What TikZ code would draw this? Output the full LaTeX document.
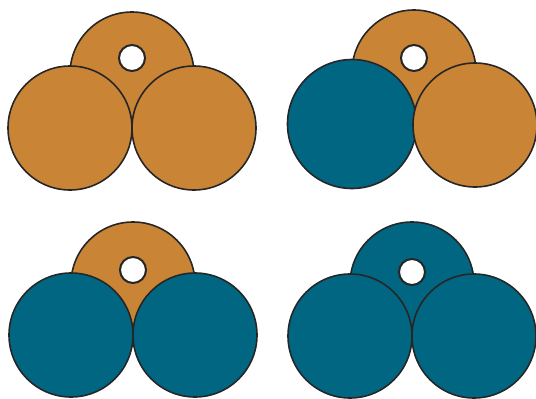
\documentclass[tikz,border=0pt]{standalone}
\definecolor{ochre}{RGB}{201,132,54}
\definecolor{teal2}{RGB}{0,102,130}
\tikzset{
  disc/.style={draw=black!85, line width=1.6pt},
  hole/.style={draw=black!85, line width=2pt, fill=white}
}
\begin{document}
\begin{tikzpicture}[x=1pt,y=-1pt]
\useasboundingbox (0,0) rectangle (536,399);
% group 1 (top left)
\draw[disc, fill=ochre] (132,74) circle (62);
\draw[hole] (132,58) circle (13);
\draw[disc, fill=ochre] (70,128) circle (62);
\draw[disc, fill=ochre] (194,128) circle (62);
% group 2 (top right)
\draw[disc, fill=ochre] (414,72) circle (62);
\draw[hole] (414,58) circle (13);
\draw[disc, fill=teal2] (352,124) circle (64.5);
\draw[disc, fill=ochre] (475,125) circle (62);
% group 3 (bottom left)
\draw[disc, fill=ochre] (133,284) circle (62);
\draw[hole] (133,270) circle (13);
\draw[disc, fill=teal2] (71,335) circle (62);
\draw[disc, fill=teal2] (195,335) circle (62);
% group 4 (bottom right)
\draw[disc, fill=teal2] (412,284) circle (62);
\draw[hole] (412,272) circle (13);
\draw[disc, fill=teal2] (350,336) circle (62);
\draw[disc, fill=teal2] (474,336) circle (62);
\end{tikzpicture}
\end{document}
